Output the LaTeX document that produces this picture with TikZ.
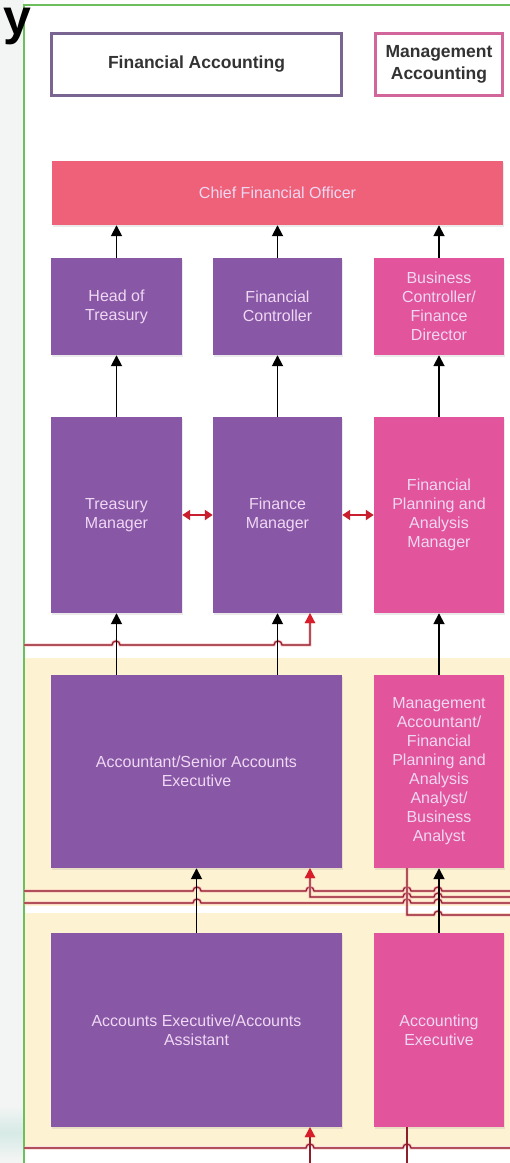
\documentclass[tikz,border=0pt]{standalone}
\usepackage{fontspec}
\setmainfont{Liberation Sans}
\usetikzlibrary{arrows.meta,shadows}
\definecolor{purp}{HTML}{8857A6}
\definecolor{pinkb}{HTML}{E2549C}
\definecolor{cfoc}{HTML}{EE6179}
\definecolor{boxtext}{HTML}{EFD8F3}
\definecolor{fabord}{HTML}{7A6592}
\definecolor{mabord}{HTML}{D2669B}
\definecolor{hdrtext}{HTML}{333333}
\definecolor{cream}{HTML}{FDF2D2}
\definecolor{lred}{HTML}{8E1E2C}
\definecolor{halo}{HTML}{F3AEB2}
\definecolor{ared}{HTML}{D81E2A}
\definecolor{dred}{HTML}{C81E2D}
\definecolor{frame}{HTML}{6CBF5C}
\definecolor{leftbg}{HTML}{F3F5F4}
\definecolor{tealfade}{HTML}{D6EAE6}
\begin{document}
\begin{tikzpicture}[x=1pt,y=-1pt,
  box/.style={rectangle, inner sep=2pt, align=center, text=boxtext,
    font=\fontsize{16}{19}\selectfont,
    drop shadow={opacity=0.16,shadow xshift=1pt,shadow yshift=-1.5pt}},
  pbox/.style={box, fill=purp},
  kbox/.style={box, fill=pinkb},
  hdr/.style={rectangle, fill=white, line width=3pt, align=center, text=hdrtext,
    font=\fontsize{17.5}{22}\selectfont\bfseries,
    drop shadow={opacity=0.12,shadow xshift=1pt,shadow yshift=-1.5pt}},
  blk/.style={draw=black, line width=1.8pt, -{Triangle[length=11pt,width=11pt]}},
  rl/.style={draw=lred, line width=1.1pt, preaction={draw=halo, line width=2.8pt}},
  rarr/.style={rl, -{Triangle[length=10pt,width=10pt,color=ared]}},
  dbl/.style={draw=dred, line width=2.4pt,
    {Triangle[length=8pt,width=10pt]}-{Triangle[length=8pt,width=10pt]}},
]
\useasboundingbox (0,0) rectangle (510,1163);

% page strip on the left and the framed panel
\fill[leftbg] (0,0) rectangle (24,1163);
\shade[top color=leftbg, bottom color=leftbg, middle color=tealfade] (0,1105) rectangle (24,1160);
\fill[white] (24,0) rectangle (510,1163);

% cream bands behind the two lower levels
\fill[cream] (24,658) rectangle (510,906);
\fill[cream] (24,913) rectangle (510,1146);

\draw[frame, line width=1.2pt] (24,1163) -- (24,5) -- (510,5);

% heading fragment
\node[anchor=base east, inner sep=0pt, text height=26pt, text depth=10pt,
  font=\fontsize{50}{50}\selectfont\bfseries] (ttl) at (32,34) {y};

% legend
\node[hdr, draw=fabord, minimum width=290pt, minimum height=62pt] (fa) at (196.5,64.5) {Financial Accounting};
\node[hdr, draw=mabord, minimum width=127pt, minimum height=62pt] (ma) at (439,64.5) {Management\\Accounting};

% top level
\node[box, fill=cfoc, minimum width=451pt, minimum height=64pt] (cfo) at (277.5,193) {Chief Financial Officer};

% second level
\node[pbox, minimum width=131pt, minimum height=97pt] (hot) at (116.5,306.5) {Head of\\Treasury};
\node[pbox, minimum width=129pt, minimum height=97pt] (fc) at (277.5,306.5) {Financial\\Controller};
\node[kbox, minimum width=130pt, minimum height=97pt] (bc) at (439,306.5) {Business\\Controller/\\Finance\\Director};

% managers
\node[pbox, minimum width=131pt, minimum height=196pt] (tm) at (116.5,515) {Treasury\\Manager};
\node[pbox, minimum width=129pt, minimum height=196pt] (fm) at (277.5,515) {Finance\\Manager};
\node[kbox, minimum width=130pt, minimum height=196pt] (fpa) at (439,515) {Financial\\Planning and\\Analysis\\Manager};

% accountants
\node[pbox, minimum width=291pt, minimum height=193pt] (acc) at (196.5,771.5) {Accountant/Senior Accounts\\Executive};
\node[kbox, minimum width=130pt, minimum height=193pt] (mac) at (439,771.5) {Management\\Accountant/\\Financial\\Planning and\\Analysis\\Analyst/\\Business\\Analyst};

% executives
\node[pbox, minimum width=291pt, minimum height=194pt] (ae) at (196.5,1030) {Accounts Executive/Accounts\\Assistant};
\node[kbox, minimum width=130pt, minimum height=194pt] (aex) at (439,1030) {Accounting\\Executive};

% loose ends of the cross-links
\coordinate (w1) at (24,645);
\coordinate (w2) at (24,891);
\coordinate (e2) at (512,891);
\coordinate (e3) at (512,897);
\coordinate (w4) at (24,903);
\coordinate (e4) at (512,903);
\coordinate (e5) at (512,915);
\coordinate (w6) at (24,1148);
\coordinate (e6) at (512,1148);
\coordinate (b1) at (310,1166);
\coordinate (b2) at (407,1166);

% cross-links with line jumps
\draw[rarr] (w1) -- (112,645) arc[start angle=180,end angle=0,radius=4pt]
  -- (274,645) arc[start angle=180,end angle=0,radius=4pt]
  -- (310,645) -- ([xshift=32.5pt]fm.south);
\draw[rl] (w2) -- (193,891) arc[start angle=180,end angle=0,radius=4pt]
  -- (306,891) arc[start angle=180,end angle=0,radius=4pt]
  -- (403,891) arc[start angle=180,end angle=0,radius=4pt]
  -- (434,891) arc[start angle=180,end angle=0,radius=4pt] -- (e2);
\draw[rarr] (e3) -- (442,897) arc[start angle=0,end angle=180,radius=4pt]
  -- (411,897) arc[start angle=0,end angle=180,radius=4pt]
  -- (310,897) -- ([xshift=113.5pt]acc.south);
\draw[rl] (w4) -- (193,903) arc[start angle=180,end angle=0,radius=4pt]
  -- (403,903) arc[start angle=180,end angle=0,radius=4pt]
  -- (434,903) arc[start angle=180,end angle=0,radius=4pt] -- (e4);
\draw[rl] ([xshift=-32pt]mac.south) -- (407,915)
  -- (434,915) arc[start angle=180,end angle=0,radius=4pt] -- (e5);
\draw[rl] (w6) -- (306,1148) arc[start angle=180,end angle=0,radius=4pt]
  -- (403,1148) arc[start angle=180,end angle=0,radius=4pt] -- (e6);
\draw[rarr] (b1) -- ([xshift=113.5pt]ae.south);
\draw[rl] ([xshift=-32pt]aex.south) -- (b2);

% reporting lines
\draw[blk] (hot.north) -- (hot.north |- cfo.south);
\draw[blk] (fc.north) -- (fc.north |- cfo.south);
\draw[blk] (bc.north) -- (bc.north |- cfo.south);
\draw[blk] (tm.north) -- (hot.south);
\draw[blk] (fm.north) -- (fc.south);
\draw[blk] (fpa.north) -- (bc.south);
\draw[blk] (acc.north -| tm.south) -- (tm.south);
\draw[blk] (acc.north -| fm.south) -- (fm.south);
\draw[blk] (mac.north) -- (fpa.south);
\draw[blk] (ae.north) -- (acc.south);
\draw[blk] (aex.north) -- (mac.south);

% peer links
\draw[dbl] (tm.east) -- (fm.west);
\draw[dbl] (fm.east) -- (fpa.west);
\end{tikzpicture}
\end{document}
